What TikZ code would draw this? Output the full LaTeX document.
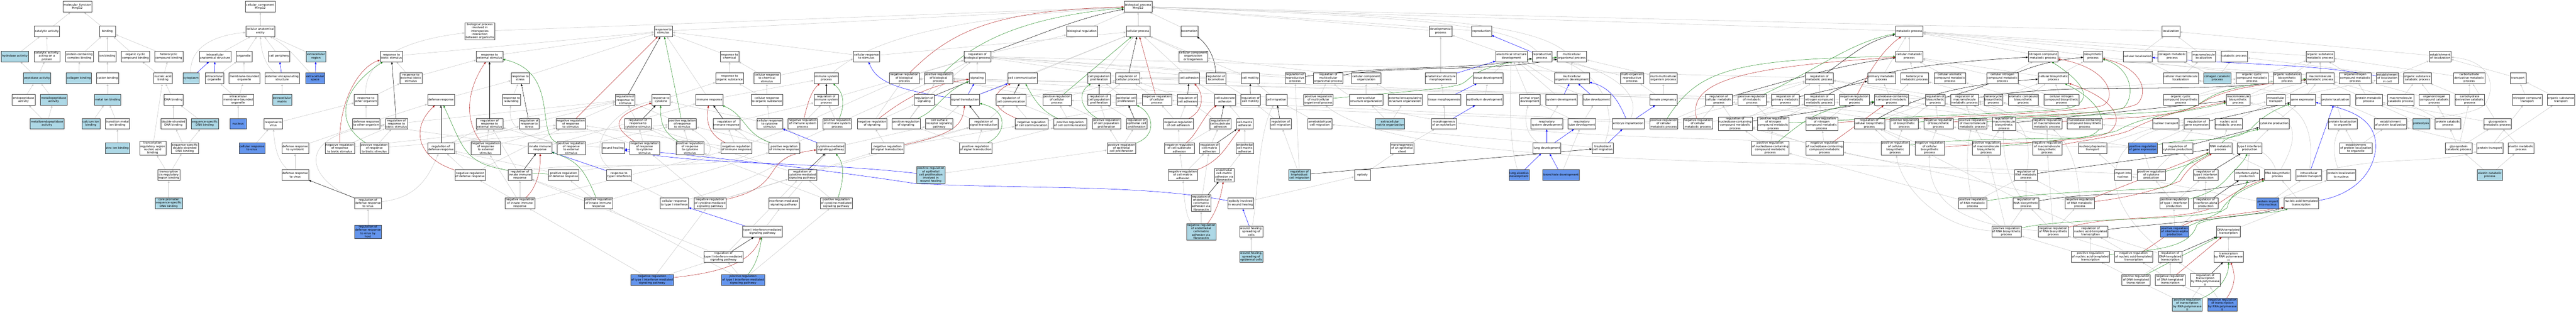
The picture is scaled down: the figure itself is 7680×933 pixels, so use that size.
\documentclass[tikz,border=0pt]{standalone}
\usepackage{fontspec}
\setmainfont{DejaVu Sans}
\usetikzlibrary{arrows.meta,backgrounds}
\definecolor{litblue}{HTML}{ADD8E6}
\definecolor{cornblue}{HTML}{6495ED}
\definecolor{edgegray}{HTML}{C4C4C4}
\definecolor{negred}{HTML}{B22222}
\definecolor{posgreen}{HTML}{228B22}
\tikzset{
  gobox/.style={draw=black!75,line width=.55pt,fill=white,align=center,inner xsep=2pt,inner ysep=2pt,minimum width=48pt,minimum height=32pt,font=\fontsize{8.6}{9.6}\selectfont},
  litbox/.style={gobox,fill=litblue},
  cornbox/.style={gobox,fill=cornblue},
  isa/.style={edgegray,line width=.8pt,-{Latex[length=7pt,width=6pt]}},
  partof/.style={isa,blue},
  regs/.style={isa,black},
  negreg/.style={isa,negred},
  posreg/.style={isa,posgreen}
}
\begin{document}
\begin{tikzpicture}[x=1pt,y=-1pt]
\useasboundingbox (0,0) rectangle (7680,933);

% molecular function
\node[gobox] (mf) at (230.5,20) {molecular\_function\\Mmp12};
\node[gobox] (catact) at (139.5,93) {catalytic activity};
\node[gobox] (binding) at (320,93) {binding};
\node[litbox] (hydrol) at (44,168) {hydrolase activity};
\node[gobox] (catprot) at (140,168) {catalytic activity,\\acting on a\\protein};
\node[gobox] (pcbind) at (237,168) {protein-containing\\complex binding};
\node[gobox] (ionbind) at (320,168) {ion binding};
\node[gobox] (ocbind) at (403.5,168) {organic cyclic\\compound binding};
\node[gobox] (hcbind) at (503,168) {heterocyclic\\compound binding};
\node[litbox] (peptid) at (110.5,233) {peptidase activity};
\node[litbox] (collbind) at (235,233) {collagen binding};
\node[gobox] (cationbind) at (320.7,233) {cation binding};
\node[gobox] (nabind) at (486,233) {nucleic acid\\binding};
\node[gobox] (endopep) at (70,298) {endopeptidase\\activity};
\node[litbox] (metpep) at (160,298) {metallopeptidase\\activity};
\node[litbox] (metionb) at (320.7,298) {metal ion binding};
\node[gobox] (dnabind) at (517,298) {DNA binding};
\node[litbox] (metendo) at (140,369) {metalloendopeptidase\\activity};
\node[litbox] (caion) at (271,369) {calcium ion\\binding};
\node[gobox] (transmet) at (350,369) {transition metal\\ion binding};
\node[gobox] (dsdna) at (517,369) {double-stranded\\DNA binding};
\node[litbox] (ssdna) at (610.5,369) {sequence-specific\\DNA binding};
\node[litbox] (zincion) at (350,442) {zinc ion binding};
\node[gobox] (trrnab) at (455,442) {transcription\\regulatory region\\nucleic acid\\binding};
\node[gobox] (sdsdna) at (551,442) {sequence-specific\\double-stranded\\DNA binding};
\node[gobox] (cisreg) at (503,522) {transcription\\cis-regulatory\\region binding};
\node[litbox] (corepro) at (503,606) {core promoter\\sequence-specific\\DNA binding};

% cellular component
\node[gobox] (cc) at (776,20) {cellular\_component\\Mmp12};
\node[gobox] (cae) at (776,93) {cellular anatomical\\entity};
\node[gobox] (iastr) at (641,168) {intracellular\\anatomical structure};
\node[gobox] (organelle) at (727,168) {organelle};
\node[gobox] (cperiph) at (832,168) {cell periphery};
\node[litbox] (exreg) at (942,168) {extracellular\\region};
\node[litbox] (cytopl) at (569.6,233) {cytoplasm};
\node[gobox] (iorg) at (639,233) {intracellular\\organelle};
\node[gobox] (mbo) at (728.5,233) {membrane-bounded\\organelle};
\node[gobox] (ees) at (841,233) {external encapsulating\\structure};
\node[cornbox] (exspace) at (939.5,233) {extracellular\\space};
\node[gobox] (imbo) at (710,298) {intracellular\\membrane-bounded\\organelle};
\node[litbox] (exmatrix) at (841,298) {extracellular\\matrix};
\node[cornbox] (nucleus) at (710,369) {nucleus};

% biological process, left part
\node[gobox] (rvirus) at (814.6,369) {response to\\virus};
\node[cornbox] (crvirus) at (751,442) {cellular response\\to virus};
\node[gobox] (drsym) at (880,442) {defense response\\to symbiont};
\node[gobox] (drvirus) at (880,522) {defense response\\to virus};
\node[gobox] (negrbs) at (1013,442) {negative regulation\\of response\\to biotic stimulus};
\node[gobox] (posrbs) at (1116,442) {positive regulation\\of response\\to biotic stimulus};
\node[gobox] (rbs) at (1167,168) {response to\\biotic stimulus};
\node[gobox] (rebs) at (1225,233) {response to\\external biotic\\stimulus};
\node[gobox] (rother) at (1091,298) {response to\\other organism};
\node[gobox] (drother) at (1092,369) {defense response\\to other organism};
\node[gobox] (regrbs) at (1182,369) {regulation of\\response to\\biotic stimulus};
\node[gobox] (regdv) at (1097,606) {regulation of\\defense response\\to virus};
\node[cornbox] (regdvh) at (1097,691) {regulation of\\defense response\\to virus by\\host};
\node[gobox] (bpinter) at (1430.5,93) {biological process\\involved in\\interspecies\\interaction\\between organisms};
\node[gobox] (rext) at (1459.5,168) {response to\\external stimulus};
\node[gobox] (rstress) at (1551,233) {response to\\stress};
\node[gobox] (defresp) at (1314.5,298) {defense response};
\node[gobox] (rwound) at (1525,298) {response to\\wounding};
\node[gobox] (regrstim) at (1864,298) {regulation of\\response to\\stimulus};
\node[gobox] (regrext) at (1459.5,369) {regulation of\\response to\\external stimulus};
\node[gobox] (regrstress) at (1578,369) {regulation of\\response to\\stress};
\node[gobox] (negrstim) at (1701.5,369) {negative regulation\\of response\\to stimulus};
\node[gobox] (regrcyt) at (1902,369) {regulation of\\response to\\cytokine stimulus};
\node[gobox] (regdef) at (1314.5,442) {regulation of\\defense response};
\node[gobox] (negrext) at (1448,442) {negative regulation\\of response\\to external\\stimulus};
\node[gobox] (innate) at (1610,442) {innate immune\\response};
\node[gobox] (posrext) at (1703,442) {positive regulation\\of response\\to external\\stimulus};
\node[gobox] (woundh) at (1828,442) {wound healing};
\node[gobox] (negrcyt) at (1921.7,442) {negative regulation\\of response\\to cytokine\\stimulus};
\node[gobox] (negdef) at (1401.6,522) {negative regulation\\of defense response};
\node[gobox] (reginnate) at (1550,522) {regulation of\\innate immune\\response};
\node[gobox] (posdef) at (1680,522) {positive regulation\\of defense response};
\node[gobox] (rtype) at (1845.5,522) {response to\\type I interferon};
\node[gobox] (neginnate) at (1550,606) {negative regulation\\of innate immune\\response};
\node[gobox] (posinnate) at (1784,606) {positive regulation\\of innate immune\\response};
\node[cornbox] (negtype) at (1944,835) {negative regulation\\of type I interferon-mediated\\signaling pathway};

% immune and response to stimulus
\node[gobox] (stim) at (1977.5,93) {response to\\stimulus};
\node[gobox] (rchem) at (2175,168) {response to\\chemical};
\node[gobox] (cellresp) at (2583,168) {cellular response\\to stimulus};
\node[gobox] (rorg) at (2175,233) {response to\\organic substance};
\node[gobox] (crchem) at (2286.4,233) {cellular response\\to chemical\\stimulus};
\node[gobox] (imsys) at (2463.5,233) {immune system\\process};
\node[gobox] (rcyt) at (1970.6,298) {response to\\cytokine};
\node[gobox] (immresp) at (2115,298) {immune response};
\node[gobox] (crorg) at (2286.4,298) {cellular response\\to organic substance};
\node[gobox] (regimsys) at (2463.5,298) {regulation of\\immune system\\process};
\node[gobox] (posrstim) at (2034,369) {positive regulation\\of response\\to stimulus};
\node[gobox] (regimm) at (2166,369) {regulation of\\immune response};
\node[gobox] (crcyt) at (2294.5,369) {cellular response\\to cytokine\\stimulus};
\node[gobox] (negimsys) at (2393,369) {negative regulation\\of immune system\\process};
\node[gobox] (posimsys) at (2496,369) {positive regulation\\of immune system\\process};
\node[gobox] (negsignal) at (2600,369) {negative regulation\\of signaling};
\node[gobox] (posrcyt) at (2057,442) {positive regulation\\of response\\to cytokine\\stimulus};
\node[gobox] (negimm) at (2195.4,442) {negative regulation\\of immune response};
\node[gobox] (posimm) at (2338,442) {positive regulation\\of immune response};
\node[gobox] (cmsp) at (2477,442) {cytokine-mediated\\signaling pathway};
\node[gobox] (regcmsp) at (2392,522) {regulation of\\cytokine-mediated\\signaling pathway};
\node[gobox] (crtype) at (2010.6,606) {cellular response\\to type I interferon};
\node[gobox] (negcmsp) at (2117,606) {negative regulation\\of cytokine-mediated\\signaling pathway};
\node[gobox] (ifnmsp) at (2336.6,606) {interferon-mediated\\signaling pathway};
\node[gobox] (poscmsp) at (2493,606) {positive regulation\\of cytokine-mediated\\signaling pathway};
\node[gobox] (typemsp) at (2273,691) {type I interferon-mediated\\signaling pathway};
\node[gobox] (regtype) at (2156.6,766) {regulation of\\type I interferon-mediated\\signaling pathway};
\node[cornbox] (postype) at (2215.4,835) {positive regulation\\of type I interferon-mediated\\signaling pathway};

% signaling
\node[gobox] (regbp) at (2914,168) {regulation of\\biological process};
\node[gobox] (negbp) at (2696,233) {negative regulation\\of biological\\process};
\node[gobox] (posbp) at (2798,233) {positive regulation\\of biological\\process};
\node[gobox] (signaling) at (2913,233) {signaling};
\node[gobox] (cellcomm) at (3048,233) {cell communication};
\node[gobox] (bioreg) at (3225.5,93) {biological regulation};
\node[gobox] (regsig) at (2755,298) {regulation of\\signaling};
\node[gobox] (sigtr) at (2877,298) {signal transduction};
\node[gobox] (regcomm) at (3014,298) {regulation of\\cell communication};
\node[gobox] (poscell) at (3151,298) {positive regulation\\of cellular\\process};
\node[gobox] (possig) at (2701,369) {positive regulation\\of signaling};
\node[gobox] (csrsp) at (2800,369) {cell surface\\receptor signaling\\pathway};
\node[gobox] (regst) at (2932.5,369) {regulation of\\signal transduction};
\node[gobox] (negcomm) at (3075,369) {negative regulation\\of cell communication};
\node[gobox] (poscomm) at (3190.5,369) {positive regulation\\of cell communication};
\node[gobox] (negst) at (2646,442) {negative regulation\\of signal transduction};
\node[gobox] (posst) at (2909,442) {positive regulation\\of signal transduction};
\node[litbox] (posepw) at (2775,522) {positive regulation\\of epithelial\\cell proliferation\\involved in\\wound healing};

% cellular process
\node[gobox] (bp) at (3393,20) {biological\_process\\Mmp12};
\node[gobox] (cellproc) at (3393,93) {cellular process};
\node[gobox] (locomo) at (3546,93) {locomotion};
\node[gobox] (ccob) at (3557.4,168) {cellular component\\organization\\or biogenesis};
\node[gobox] (cellpop) at (3276.7,233) {cell population\\proliferation};
\node[gobox] (regcell) at (3362,233) {regulation of\\cellular process};
\node[gobox] (celladh) at (3545,233) {cell adhesion};
\node[gobox] (regloc) at (3625,233) {regulation of\\locomotion};
\node[gobox] (cellmot) at (3727.5,233) {cell motility};
\node[gobox] (regrepro) at (3861,233) {regulation of\\reproductive\\process};
\node[gobox] (regpop) at (3276.7,298) {regulation of\\cell population\\proliferation};
\node[gobox] (epithp) at (3357.5,298) {epithelial cell\\proliferation};
\node[gobox] (negcell) at (3449,298) {negative regulation\\of cellular\\process};
\node[gobox] (regadh) at (3540,298) {regulation of\\cell adhesion};
\node[gobox] (csa) at (3651.6,298) {cell-substrate\\adhesion};
\node[gobox] (regmot) at (3728,298) {regulation of\\cell motility};
\node[gobox] (cellmig) at (3805.5,298) {cell migration};
\node[gobox] (pospop) at (3298.7,369) {positive regulation\\of cell population\\proliferation};
\node[gobox] (regep) at (3388.5,369) {regulation of\\epithelial cell\\proliferation};
\node[gobox] (negadh) at (3513,369) {negative regulation\\of cell adhesion};
\node[gobox] (regcsa) at (3638,369) {regulation of\\cell-substrate\\adhesion};
\node[gobox] (cma) at (3711,369) {cell-matrix\\adhesion};
\node[gobox] (regmig) at (3818,369) {regulation of\\cell migration};
\node[gobox] (posep) at (3343.6,442) {positive regulation\\of epithelial\\cell proliferation};
\node[gobox] (negcsa) at (3516,442) {negative regulation\\of cell-substrate\\adhesion};
\node[gobox] (regcma) at (3605.6,442) {regulation of\\cell-matrix\\adhesion};
\node[gobox] (ecma) at (3711,442) {endothelial\\cell-matrix\\adhesion};
\node[gobox] (negcma) at (3526.4,522) {negative regulation\\of cell-matrix\\adhesion};
\node[gobox] (fnadh) at (3649.6,522) {endothelial\\cell-matrix\\adhesion via\\fibronectin};
\node[gobox] (regfn) at (3581,606) {regulation of\\endothelial\\cell-matrix\\adhesion via\\fibronectin};
\node[gobox] (epiwh) at (3698.6,606) {epiboly involved\\in wound healing};
\node[litbox] (negfn) at (3581,691) {negative regulation\\of endothelial\\cell-matrix\\adhesion via\\fibronectin};
\node[gobox] (spread) at (3730.4,691) {wound healing,\\spreading of\\cells};
\node[litbox] (spreadepi) at (3730.4,766) {wound healing,\\spreading of\\epidermal cells};

% development
\node[gobox] (devproc) at (4295,93) {developmental\\process};
\node[gobox] (repro) at (4417,93) {reproduction};
\node[gobox] (asd) at (4506,168) {anatomical structure\\development};
\node[gobox] (regmulti) at (3960,233) {regulation of\\multicellular\\organismal process};
\node[gobox] (cco) at (4073,233) {cellular component\\organization};
\node[gobox] (asm) at (4295,233) {anatomical structure\\morphogenesis};
\node[gobox] (tissdev) at (4436.5,233) {tissue development};
\node[gobox] (posmulti) at (3930.6,298) {positive regulation\\of multicellular\\organismal process};
\node[gobox] (exorg) at (4073,298) {extracellular\\structure organization};
\node[gobox] (eesorg) at (4189,298) {external encapsulating\\structure organization};
\node[gobox] (tissmorph) at (4305,298) {tissue morphogenesis};
\node[gobox] (epdev) at (4426,298) {epithelium development};
\node[gobox] (amebo) at (3934.7,369) {ameboidal-type\\cell migration};
\node[litbox] (ecmorg) at (4144,369) {extracellular\\matrix organization};
\node[gobox] (morphep) at (4305,369) {morphogenesis\\of an epithelium};
\node[gobox] (morphsh) at (4180,442) {morphogenesis\\of an epithelial\\sheet};
\node[litbox] (regtroph) at (3874,522) {regulation of\\trophoblast\\cell migration};
\node[gobox] (epiboly) at (4062,522) {epiboly};
\node[gobox] (reprop) at (4597,168) {reproductive\\process};
\node[gobox] (multicell) at (4686,168) {multicellular\\organismal process};
\node[gobox] (mod) at (4686.4,233) {multicellular\\organism development};
\node[gobox] (multirepro) at (4865.6,233) {multi-organism\\reproductive\\process};
\node[gobox] (multimulti) at (4959,233) {multi-multicellular\\organism process};
\node[gobox] (organdev) at (4561,298) {animal organ\\development};
\node[gobox] (sysdev) at (4655.4,298) {system development};
\node[gobox] (tubedev) at (4760,298) {tube development};
\node[gobox] (female) at (4959,298) {female pregnancy};
\node[gobox] (respsys) at (4611.4,369) {respiratory\\system development};
\node[gobox] (resptube) at (4716,369) {respiratory\\tube development};
\node[gobox] (embryo) at (4854,369) {embryo implantation};
\node[gobox] (lungdev) at (4611.4,442) {lung development};
\node[gobox] (troph) at (4778,442) {trophoblast\\cell migration};
\node[cornbox] (lungalv) at (4529,522) {lung alveolus\\development};
\node[cornbox] (bronch) at (4654,522) {bronchiole development};

% metabolism
\node[gobox] (regcellmet) at (5124.5,298) {regulation of\\cellular metabolic\\process};
\node[gobox] (poscellmet) at (4960,369) {positive regulation\\of cellular\\metabolic process};
\node[gobox] (negcellmet) at (5062,369) {negative regulation\\of cellular\\metabolic process};
\node[gobox] (metab) at (5692,93) {metabolic process};
\node[gobox] (cellmet) at (5692,168) {cellular metabolic\\process};
\node[gobox] (regmet) at (5424,233) {regulation of\\metabolic process};
\node[gobox] (primet) at (5609,233) {primary metabolic\\process};
\node[gobox] (hcmet) at (5708,233) {heterocycle\\metabolic process};
\node[gobox] (posmet) at (5223,298) {positive regulation\\of metabolic\\process};
\node[gobox] (regprim) at (5323,298) {regulation of\\primary metabolic\\process};
\node[gobox] (regnit) at (5424,298) {regulation of\\nitrogen compound\\metabolic process};
\node[gobox] (negmet) at (5528.4,298) {negative regulation\\of metabolic\\process};
\node[gobox] (nbcmet) at (5639,298) {nucleobase-containing\\compound metabolic\\process};
\node[gobox] (regbio) at (5769.5,298) {regulation of\\biosynthetic\\process};
\node[gobox] (regnb) at (5173,369) {regulation of\\nucleobase-containing\\compound metabolic\\process};
\node[gobox] (posnit) at (5286.5,369) {positive regulation\\of nitrogen\\compound metabolic\\process};
\node[gobox] (negnit) at (5431,369) {negative regulation\\of nitrogen\\compound metabolic\\process};
\node[gobox] (regcellbio) at (5573,369) {regulation of\\cellular biosynthetic\\process};
\node[gobox] (posbio) at (5677,369) {positive regulation\\of biosynthetic\\process};
\node[gobox] (negbio) at (5779,369) {negative regulation\\of biosynthetic\\process};
\node[gobox] (posnb) at (5277.5,442) {positive regulation\\of nucleobase-containing\\compound metabolic\\process};
\node[gobox] (negnb) at (5439.5,442) {negative regulation\\of nucleobase-containing\\compound metabolic\\process};
\node[gobox] (poscellbio) at (5650,442) {positive regulation\\of cellular\\biosynthetic\\process};
\node[gobox] (negcellbio) at (5753,442) {negative regulation\\of cellular\\biosynthetic\\process};
\node[gobox] (nitmet) at (6091,168) {nitrogen compound\\metabolic process};
\node[gobox] (biosyn) at (6240,168) {biosynthetic\\process};
\node[gobox] (cellloc) at (6373,168) {cellular localization};
\node[gobox] (carmet) at (5813.4,233) {cellular aromatic\\compound metabolic\\process};
\node[gobox] (cnitmet) at (5970,233) {cellular nitrogen\\compound metabolic\\process};
\node[gobox] (cellbio) at (6122,233) {cellular biosynthetic\\process};
\node[gobox] (regmacmet) at (5857,298) {regulation of\\macromolecule\\metabolic process};
\node[gobox] (hcbio) at (5943,298) {heterocycle\\biosynthetic\\process};
\node[gobox] (arbio) at (6032,298) {aromatic compound\\biosynthetic\\process};
\node[gobox] (cnitbio) at (6146,298) {cellular nitrogen\\compound biosynthetic\\process};
\node[gobox] (posmacmet) at (5881,369) {positive regulation\\of macromolecule\\metabolic process};
\node[gobox] (regmacbio) at (5974.6,369) {regulation of\\macromolecule\\biosynthetic\\process};
\node[gobox] (negmacmet) at (6103,369) {negative regulation\\of macromolecule\\metabolic process};
\node[gobox] (nbcbio) at (6215,369) {nucleobase-containing\\compound biosynthetic\\process};
\node[gobox] (posmacbio) at (5921.6,442) {positive regulation\\of macromolecule\\biosynthetic\\process};
\node[gobox] (negmacbio) at (6103,442) {negative regulation\\of macromolecule\\biosynthetic\\process};
\node[gobox] (nctrans) at (6238.6,442) {nucleocytoplasmic\\transport};
\node[cornbox] (posgene) at (6388,442) {positive regulation\\of gene expression};
\node[gobox] (regrna) at (6040,522) {regulation of\\RNA metabolic\\process};
\node[gobox] (importn) at (6329,522) {import into\\nucleus};
\node[gobox] (poscyto) at (6413.5,522) {positive regulation\\of cytokine\\production};
\node[gobox] (posrna) at (5881,606) {positive regulation\\of RNA metabolic\\process};
\node[gobox] (regrnabio) at (6040,606) {regulation of\\RNA biosynthetic\\process};
\node[gobox] (negrna) at (6200.6,606) {negative regulation\\of RNA metabolic\\process};
\node[gobox] (posrnabio) at (5982,691) {positive regulation\\of RNA biosynthetic\\process};
\node[gobox] (negrnabio) at (6121.5,691) {negative regulation\\of RNA biosynthetic\\process};
\node[gobox] (regnat) at (6233,691) {regulation of\\nucleic acid-templated\\transcription};
\node[gobox] (posnat) at (6232,766) {positive regulation\\of nucleic acid-templated\\transcription};
\node[gobox] (negnat) at (6361,766) {negative regulation\\of nucleic acid-templated\\transcription};
\node[gobox] (posdna) at (6368,835) {positive regulation\\of DNA-templated\\transcription};

% localization and gene expression
\node[gobox] (localiz) at (6472,93) {localization};
\node[gobox] (collmet) at (6476,168) {collagen metabolic\\process};
\node[gobox] (macloc) at (6570,168) {macromolecule\\localization};
\node[gobox] (catabol) at (6661,168) {catabolic process};
\node[gobox] (orgmet) at (6917,168) {organic substance\\metabolic process};
\node[gobox] (cmacloc) at (6501.6,233) {cellular macromolecule\\localization};
\node[litbox] (collcat) at (6610.5,233) {collagen catabolic\\process};
\node[gobox] (ocmet) at (6714,233) {organic cyclic\\compound metabolic\\process};
\node[gobox] (orgbio) at (6818.6,233) {organic substance\\biosynthetic\\process};
\node[gobox] (macmet) at (6917,233) {macromolecule\\metabolic process};
\node[gobox] (onmet) at (7021.5,233) {organonitrogen\\compound metabolic\\process};
\node[gobox] (ocbio) at (6501.6,298) {organic cyclic\\compound biosynthetic\\process};
\node[gobox] (macbio) at (6672.5,298) {macromolecule\\biosynthetic\\process};
\node[gobox] (itrans) at (6785,298) {intracellular\\transport};
\node[gobox] (geneexp) at (6865.5,298) {gene expression};
\node[gobox] (protloc) at (6962.6,298) {protein localization};
\node[gobox] (protmet) at (7062,298) {protein metabolic\\process};
\node[gobox] (nuctrans) at (6457,369) {nuclear transport};
\node[gobox] (reggene) at (6549.3,369) {regulation of\\gene expression};
\node[gobox] (nucmet) at (6644,369) {nucleic acid\\metabolic process};
\node[gobox] (cytoprod) at (6780,369) {cytokine production};
\node[gobox] (plocorg) at (6984,369) {protein localization\\to organelle};
\node[gobox] (regcyto) at (6492,442) {regulation of\\cytokine production};
\node[gobox] (rnamet) at (6620,442) {RNA metabolic\\process};
\node[gobox] (typeprod) at (6707,442) {type I interferon\\production};
\node[gobox] (estorg) at (7023.5,442) {establishment\\of protein localization\\to organelle};
\node[gobox] (regtypep) at (6576,522) {regulation of\\type I interferon\\production};
\node[gobox] (ifnaprod) at (6699,522) {interferon-alpha\\production};
\node[gobox] (rnabio) at (6790,522) {RNA biosynthetic\\process};
\node[gobox] (iptrans) at (6883.5,522) {intracellular\\protein transport};
\node[gobox] (plocnuc) at (6980,522) {protein localization\\to nucleus};
\node[gobox] (postypep) at (6481,606) {positive regulation\\of type I interferon\\production};
\node[gobox] (regifna) at (6576,606) {regulation of\\interferon-alpha\\production};
\node[cornbox] (protimp) at (6761,606) {protein import\\into nucleus};
\node[gobox] (nat) at (6860.6,606) {nucleic acid-templated\\transcription};
\node[cornbox] (posifna) at (6483,691) {positive regulation\\of interferon-alpha\\production};
\node[gobox] (dnat) at (6643.6,691) {DNA-templated\\transcription};
\node[gobox] (regdna) at (6470,766) {regulation of\\DNA-templated\\transcription};
\node[gobox] (pol) at (6644,766) {transcription\\by RNA polymerase\\II};
\node[gobox] (negdna) at (6470,835) {negative regulation\\of DNA-templated\\transcription};
\node[gobox] (regpol) at (6574.6,835) {regulation of\\transcription\\by RNA polymerase\\II};
\node[litbox] (pospol) at (6521,909) {positive regulation\\of transcription\\by RNA polymerase\\II};
\node[cornbox] (negpol) at (6625.7,909) {negative regulation\\of transcription\\by RNA polymerase\\II};

% catabolism and transport
\node[gobox] (estloc) at (7275,168) {establishment\\of localization};
\node[gobox] (estcell) at (7117.5,233) {establishment\\of localization\\in cell};
\node[gobox] (orgcat) at (7207,233) {organic substance\\catabolic process};
\node[gobox] (carbmet) at (7361.5,233) {carbohydrate\\derivative metabolic\\process};
\node[gobox] (transp) at (7507,233) {transport};
\node[gobox] (maccat) at (7157.5,298) {macromolecule\\catabolic process};
\node[gobox] (oncat) at (7257.5,298) {organonitrogen\\compound catabolic\\process};
\node[gobox] (carbcat) at (7363,298) {carbohydrate\\derivative catabolic\\process};
\node[gobox] (nittrans) at (7534.5,298) {nitrogen compound\\transport};
\node[gobox] (orgtrans) at (7635,298) {organic substance\\transport};
\node[gobox] (estprot) at (7127,369) {establishment\\of protein localization};
\node[litbox] (proteol) at (7218,369) {proteolysis};
\node[gobox] (protcat) at (7298,369) {protein catabolic\\process};
\node[gobox] (glymet) at (7446,369) {glycoprotein\\metabolic process};
\node[gobox] (glycat) at (7330,442) {glycoprotein\\catabolic process};
\node[gobox] (prottrans) at (7423,442) {protein transport};
\node[gobox] (elastmet) at (7516,442) {elastin metabolic\\process};
\node[litbox] (elastcat) at (7423,522) {elastin catabolic\\process};

\begin{pgfonlayer}{background}
% is-a edges
\foreach \a/\b in {catact/mf,binding/mf,hydrol/catact,catprot/catact,pcbind/binding,ionbind/binding,ocbind/binding,hcbind/binding,peptid/hydrol,peptid/catprot,collbind/pcbind,cationbind/ionbind,nabind/ocbind,nabind/hcbind,endopep/peptid,metpep/peptid,metendo/endopep,metendo/metpep,metionb/cationbind,caion/metionb,transmet/metionb,zincion/transmet,dnabind/nabind,trrnab/nabind,dsdna/dnabind,ssdna/dnabind,sdsdna/dsdna,sdsdna/ssdna,cisreg/trrnab,cisreg/sdsdna,corepro/cisreg,
  cae/cc,iastr/cae,organelle/cae,cperiph/cae,exreg/cae,iorg/organelle,mbo/organelle,imbo/iorg,imbo/mbo,exmatrix/ees,nucleus/imbo,
  rbs/stim,rebs/rbs,rebs/rext,rother/rebs,rvirus/rother,crvirus/rvirus,drvirus/drsym,drsym/drother,drother/rother,drother/defresp,regrbs/regrstim,negrbs/regrbs,posrbs/regrbs,negrbs/negrstim,posrbs/posrstim,innate/drother,
  bpinter/bp,rext/stim,rstress/stim,rwound/rstress,defresp/rstress,regrext/regrstim,regrstress/regrstim,negrstim/regrstim,regrcyt/regrstim,posrstim/regrstim,negrext/regrext,negrext/negrstim,posrext/regrext,posrext/posrstim,regdef/regrext,regdef/regrstress,negdef/regdef,posdef/regdef,negdef/negrstim,reginnate/regrext,reginnate/regdef,neginnate/reginnate,neginnate/negdef,neginnate/negrext,neginnate/negimm,posinnate/reginnate,posinnate/posdef,posinnate/posimm,regtype/reginnate,postype/posinnate,negtype/neginnate,innate/immresp,negrcyt/regrcyt,negrcyt/negrstim,posrcyt/regrcyt,posrcyt/posrstim,
  immresp/stim,rchem/stim,rcyt/rorg,rorg/rchem,crchem/rchem,crorg/crchem,crorg/rorg,crcyt/crorg,crcyt/rcyt,crchem/cellresp,cellresp/stim,immresp/imsys,stim/bp,negimsys/regimsys,posimsys/regimsys,regimm/regimsys,regimsys/regbp,negimsys/negbp,posimsys/posbp,negimm/regimm,posimm/regimm,negimm/negrstim,posimm/posrstim,negimm/negimsys,posimm/posimsys,cmsp/csrsp,ifnmsp/cmsp,typemsp/ifnmsp,regcmsp/regrcyt,negcmsp/regcmsp,poscmsp/regcmsp,negcmsp/negrcyt,poscmsp/posrcyt,regcmsp/regst,negcmsp/negst,regtype/regcmsp,negtype/regtype,postype/regtype,negtype/negcmsp,postype/poscmsp,crtype/rtype,
  bioreg/bp,cellproc/bp,locomo/bp,regbp/bioreg,negbp/regbp,posbp/regbp,signaling/regbp,cellresp/cellproc,sigtr/cellproc,cellcomm/cellproc,regsig/regbp,negsignal/negbp,possig/posbp,negsignal/regsig,possig/regsig,regst/regsig,negst/negsignal,posst/possig,negst/regst,posst/regst,csrsp/sigtr,regst/regcomm,negst/negcomm,posst/poscomm,negcomm/regcomm,poscomm/regcomm,regcomm/regcell,poscell/posbp,poscomm/poscell,negcomm/negcell,regcell/regbp,negcell/negbp,negcell/regcell,poscell/regcell,
  cellpop/cellproc,celladh/cellproc,ccob/cellproc,cellmot/cellproc,regpop/regcell,epithp/cellpop,regep/regpop,pospop/regpop,pospop/poscell,posep/pospop,posep/regep,posepw/posep,regadh/regcell,negadh/regadh,negadh/negcell,negcsa/negadh,regcsa/regadh,negcsa/regcsa,regcma/regcsa,negcma/negcsa,negcma/regcma,csa/celladh,cma/csa,ecma/cma,fnadh/ecma,regfn/regcma,negfn/regfn,spreadepi/spread,regloc/regcell,regloc/regbp,regmot/regloc,cellmig/cellmot,regmig/regmot,amebo/cellmig,regtroph/regmig,regtroph/regrepro,regrepro/regbp,regmulti/regbp,posmulti/regmulti,posmulti/posbp,epiwh/epiboly,
  cco/ccob,exorg/cco,eesorg/cco,ecmorg/exorg,ecmorg/eesorg,tissmorph/asm,morphep/tissmorph,morphsh/morphep,epiboly/morphsh,asm/devproc,asd/devproc,devproc/bp,repro/bp,tissdev/asd,epdev/tissdev,mod/multicell,mod/asd,sysdev/asd,organdev/asd,respsys/sysdev,resptube/tubedev,resptube/organdev,bronch/resptube,multirepro/reprop,multimulti/multicell,female/multirepro,female/multimulti,troph/amebo,
  regmet/regbp,posmet/regmet,regprim/regmet,regnit/regmet,negmet/regmet,regcellmet/regmet,metab/bp,cellmet/metab,primet/metab,hcmet/cellmet,nbcmet/primet,nbcmet/hcmet,posmet/posbp,negmet/negbp,poscellmet/posmet,poscellmet/regcellmet,negcellmet/negmet,negcellmet/regcellmet,regcellmet/regcell,poscellmet/poscell,negcellmet/negcell,regnb/regcellmet,regnb/regprim,regnb/regnit,posnit/posmet,posnit/regnit,negnit/negmet,negnit/regnit,posnb/regnb,negnb/regnb,posnb/posnit,negnb/negnit,posbio/regbio,negbio/regbio,regcellbio/regbio,regcellbio/regcellmet,poscellbio/regcellbio,negcellbio/regcellbio,poscellbio/posbio,negcellbio/negbio,regbio/regmet,posbio/posmet,negbio/negmet,
  nitmet/metab,biosyn/metab,cnitmet/nitmet,cnitmet/cellmet,carmet/cellmet,cellbio/biosyn,cellbio/cellmet,hcbio/hcmet,hcbio/cellbio,arbio/cellbio,arbio/carmet,cnitbio/cellbio,cnitbio/cnitmet,nbcbio/cnitbio,nbcbio/hcbio,nbcbio/arbio,nbcbio/nbcmet,regmacmet/regmet,posmacmet/regmacmet,negmacmet/regmacmet,regmacbio/regmacmet,regmacbio/regbio,posmacbio/posmacmet,posmacbio/regmacbio,negmacbio/negmacmet,negmacbio/regmacbio,posrna/regrna,negrna/regrna,regrnabio/regrna,regrnabio/regcellbio,posrnabio/posrna,posrnabio/regrnabio,negrnabio/negrna,negrnabio/regrnabio,posrnabio/posmacbio,negrnabio/negmacbio,regnat/regrnabio,posnat/regnat,negnat/regnat,posnat/posrnabio,negnat/negrnabio,posdna/posnat,negdna/negnat,regdna/regnat,posmacmet/posmet,negmacmet/negmet,posmacbio/posbio,negmacbio/negbio,reggene/regmacmet,posgene/reggene,posgene/posmacmet,poscyto/posgene,regcyto/reggene,poscyto/regcyto,posrna/posnb,negrna/negnb,
  importn/nctrans,protimp/importn,nctrans/nuctrans,nuctrans/itrans,itrans/estcell,protimp/iptrans,protimp/plocnuc,plocorg/protloc,estorg/plocorg,estorg/estprot,estprot/protloc,protloc/cmacloc,cmacloc/macloc,cmacloc/cellloc,macloc/localiz,cellloc/localiz,localiz/bp,estcell/estloc,prottrans/estprot,prottrans/nittrans,prottrans/orgtrans,nittrans/transp,orgtrans/transp,transp/estloc,estloc/localiz,
  collcat/collmet,collcat/catabol,catabol/metab,collmet/metab,orgmet/metab,ocmet/orgmet,orgbio/orgmet,macmet/orgmet,onmet/orgmet,carbmet/orgmet,nbcmet/ocmet,ocbio/ocmet,ocbio/orgbio,macbio/orgbio,macbio/macmet,orgbio/biosyn,geneexp/macmet,nucmet/macmet,rnamet/nucmet,protmet/macmet,protmet/onmet,rnabio/rnamet,nat/rnabio,dnat/nat,pol/dnat,cytoprod/geneexp,typeprod/cytoprod,ifnaprod/typeprod,regtypep/regcyto,posifna/regifna,postypep/regtypep,regifna/regtypep,postypep/poscyto,posifna/postypep,onmet/nitmet,
  orgcat/catabol,maccat/orgcat,oncat/orgcat,carbcat/orgcat,carbcat/carbmet,glymet/carbmet,glymet/protmet,glycat/glymet,glycat/protcat,glycat/carbcat,protcat/maccat,protcat/oncat,protcat/protmet,proteol/protmet,elastcat/glycat,elastcat/elastmet,elastmet/glymet,maccat/macmet,oncat/onmet,regdvh/regdv,posdna/regdna,negdna/regdna,regpol/regdna,pospol/regpol,negpol/regpol,pospol/posdna,negpol/negdna}
  \draw[isa] (\a) -- (\b);
% is-a edges, curved
\foreach \a/\b/\p/\q/\r/\s in {cytopl/cae/565/140/640/105,ees/cae/790/195/778/150,exspace/cae/880/170/860/140,drvirus/rvirus/825/480/818/430,rother/bpinter/1085/180/1200/120,regdv/regrbs/920/540/860/400,regdv/regdef/1250/590/1280/520,woundh/rwound/1600/425/1510/400,rtype/rcyt/1730/440/1840/320,crtype/crcyt/2250/540/2480/430,imsys/bp/2620/100/2900/50,spread/cellmig/3750/590/3750/400,negfn/negcma/3535/650/3530/590,reprop/bp/4500/70/4200/50,multicell/bp/4560/75/4300/45,troph/reprop/4830/310/4750/200,embryo/reprop/4900/270/4780/200,tubedev/asd/4620/250/4600/220,lungalv/asd/4500/430/4500/300,lungdev/organdev/4545/400/4545/350,regcyto/regmulti/5000/415/4150/420,poscyto/posmulti/5300/470/4200/510,iptrans/prottrans/7100/465/7250/490,plocnuc/plocorg/6955/470/6955/420,iptrans/itrans/6900/400/6870/340,rnabio/nbcbio/6760/430/6650/395,rnabio/macbio/6860/400/6850/340,regrna/regmacmet/6060/420/6030/330,regrnabio/regmacbio/5985/540/5970/450,negrna/negmacmet/6195/500/6170/430,posrna/posmacmet/5862/520/5862/440,regdna/reggene/6250/600/6250/400,posrnabio/poscellbio/5780/680/5670/560,negrnabio/negcellbio/5800/670/5750/570,regrna/regnb/5450/485/5330/400}
  \draw[isa] (\a) .. controls (\p,\q) and (\r,\s) .. (\b);
\draw[isa] (reginnate) .. controls (1620,495) and (1800,494) .. (1920,494) .. controls (2150,490) and (2330,480) .. (regimm);
\draw[isa] (posdef) .. controls (1800,495) and (1900,494) .. (2000,492) .. controls (2100,490) and (2170,450) .. (posrstim);
\draw[isa] (estprot) .. controls (7300,345) and (7380,340) .. (7410,310) .. controls (7445,250) and (7420,180) .. (estloc);
% part-of edges
\foreach \a/\b in {cytopl/iastr,iorg/iastr,ees/cperiph,exspace/exreg,cmsp/crcyt,typemsp/crtype,rtype/innate,sigtr/signaling,sigtr/cellcomm,asm/asd,tissmorph/tissdev,morphep/epdev,reprop/repro,sysdev/mod,tubedev/mod,lungdev/respsys,lungdev/resptube,lungalv/lungdev,bronch/lungdev,troph/embryo,embryo/female,spread/epiwh,iptrans/protloc}
  \draw[partof] (\a) -- (\b);
\foreach \a/\b/\p/\q/\r/\s in {sigtr/cellresp/2650/265/2610/235,embryo/mod/4825/300/4800/260,estcell/cellloc/6900/190/6700/195,posepw/woundh/2400/480/2100/495}
  \draw[partof] (\a) .. controls (\p,\q) and (\r,\s) .. (\b);
\draw[partof] (epiwh) .. controls (3400,550) and (3100,565) .. (2731,548) .. controls (2550,520) and (2250,480) .. (woundh);
\draw[partof] (nat) .. controls (7000,585) and (7075,530) .. (7083,441) .. controls (7085,350) and (7000,325) .. (geneexp);
% regulates
\foreach \a/\b in {regrbs/rbs,regrext/rext,regrstress/rstress,regdef/defresp,regdv/drvirus,reginnate/innate,regrstim/stim,regrcyt/rcyt,regimm/immresp,regimsys/imsys,regcmsp/cmsp,regtype/typemsp,regsig/signaling,regcomm/cellcomm,regst/sigtr,regcell/cellproc,regpop/cellpop,regep/epithp,regadh/celladh,regcsa/csa,regcma/cma,regfn/fnadh,regmot/cellmot,regmig/cellmig,regtroph/troph,regprim/primet,regnb/nbcmet,regmacbio/macbio,regrna/rnamet,reggene/geneexp,regcyto/cytoprod,regtypep/typeprod,regifna/ifnaprod,regdna/dnat,regpol/pol}
  \draw[regs] (\a) -- (\b);
\foreach \a/\b/\p/\q/\r/\s in {regbp/bp/3050/125/3200/55,regloc/locomo/3622/160/3590/125,regmet/metab/5520/165/5560/125,regcellmet/cellmet/5330/240/5500/190,regnit/nitmet/5580/205/5800/185,regrepro/reprop/4100/195/4400/210,regmulti/multicell/4150/195/4450/215,regcellbio/cellbio/5760/260/5950/245,regbio/biosyn/6000/240/6020/190,regmacmet/macmet/6200/240/6500/285,regrnabio/rnabio/6300/560/6500/600,regnat/nat/6400/670/6700/650}
  \draw[regs] (\a) .. controls (\p,\q) and (\r,\s) .. (\b);
% negative regulation
\foreach \a/\b in {negrstim/stim,negcell/cellproc,negnb/nbcmet,negrna/rnamet,negdna/dnat}
  \draw[negreg] (\a) -- (\b);
\foreach \a/\b/\p/\q/\r/\s in {negrbs/rbs/1011/300/1070/200,negrext/rext/1385/360/1390/270,negdef/defresp/1240/470/1225/380,neginnate/innate/1600/560/1612/510,negrcyt/rcyt/1820/375/1830/345,negimm/immresp/2110/400/2105/360,negimsys/imsys/2410/300/2420/270,negcmsp/cmsp/2360/550/2250/470,negtype/typemsp/2130/815/2240/790,negbp/bp/2830/100/2950/30,negsignal/signaling/2690/300/2760/255,negst/sigtr/2850/400/2870/370,negcomm/cellcomm/2955/325/2950/280,negadh/celladh/3590/330/3590/280,negcsa/csa/3570/400/3590/340,negcma/cma/3640/480/3660/430,negfn/fnadh/3625/635/3640/590,negpol/pol/6665/850/6665/820,negmet/metab/5570/220/5610/150,negcellmet/cellmet/5030/240/5200/200}
  \draw[negreg] (\a) .. controls (\p,\q) and (\r,\s) .. (\b);
\draw[negreg] (negnit) .. controls (5700,350) and (6100,345) .. (6266,316) .. controls (6310,300) and (6300,205) .. (nitmet);
\draw[negreg] (negmacmet) .. controls (6250,350) and (6450,360) .. (6550,315) .. controls (6620,270) and (6700,255) .. (macmet);
\draw[negreg] (negmacbio) .. controls (6200,420) and (6300,410) .. (6352,388) .. controls (6420,350) and (6500,330) .. (macbio);
\draw[negreg] (negcellbio) .. controls (5950,425) and (6250,425) .. (6290,393) .. controls (6340,350) and (6290,290) .. (cellbio);
\draw[negreg] (negbio) .. controls (6000,345) and (6300,345) .. (6372,310) .. controls (6410,270) and (6380,200) .. (biosyn);
\draw[negreg] (negrnabio) .. controls (6300,640) and (6500,660) .. (6595,620) .. controls (6640,590) and (6680,560) .. (rnabio);
\draw[negreg] (negnat) .. controls (6440,720) and (6480,680) .. (6550,655) .. controls (6650,640) and (6780,625) .. (nat);
\draw[negreg] (negrna) .. controls (6350,590) and (6450,560) .. (6500,540) .. controls (6530,490) and (6560,480) .. (rnamet);
% positive regulation
\foreach \a/\b in {posrstim/stim,poscell/cellproc,posdna/dnat}
  \draw[posreg] (\a) -- (\b);
\foreach \a/\b/\p/\q/\r/\s in {posrbs/rbs/1000/370/1010/270,posrext/rext/1595/400/1670/215,posdef/defresp/1380/505/1395/470,posinnate/innate/1740/500/1720/480,posrcyt/rcyt/1975/395/1968/360,posimm/immresp/2215/395/2225/345,posimsys/imsys/2520/310/2515/275,poscmsp/cmsp/2515/540/2520/490,postype/typemsp/2255/790/2265/750,posbp/bp/2910/120/3060/50,possig/signaling/2800/325/2810/275,posst/sigtr/3000/400/3010/330,poscomm/cellcomm/3100/330/3080/290,posep/epithp/3450/405/3440/340,pospop/cellpop/3215/320/3215/275,pospol/pol/6610/870/6645/830,posmet/metab/5430/200/5520/125,poscellmet/cellmet/5060/215/5150/175,posnb/nbcmet/5390/350/5430/320}
  \draw[posreg] (\a) .. controls (\p,\q) and (\r,\s) .. (\b);
\draw[posreg] (posmulti) .. controls (4150,275) and (4280,270) .. (4350,253) .. controls (4395,240) and (4370,190) .. (multicell);
\draw[posreg] (posnit) .. controls (5800,342) and (6100,335) .. (6170,322) .. controls (6230,305) and (6235,260) .. (nitmet);
\draw[posreg] (posmacmet) .. controls (6100,340) and (6400,345) .. (6522,325) .. controls (6590,305) and (6570,255) .. (macmet);
\draw[posreg] (posmacbio) .. controls (6050,425) and (6250,410) .. (6312,390) .. controls (6400,340) and (6500,340) .. (macbio);
\draw[posreg] (poscellbio) .. controls (5800,412) and (6150,415) .. (6209,411) .. controls (6300,395) and (6280,310) .. (cellbio);
\draw[posreg] (posbio) .. controls (5900,345) and (6250,345) .. (6331,322) .. controls (6370,280) and (6350,200) .. (biosyn);
\draw[posreg] (posgene) .. controls (6550,405) and (6660,430) .. (6710,385) .. controls (6750,340) and (6800,320) .. (geneexp);
\draw[posreg] (poscyto) .. controls (6540,490) and (6600,460) .. (6630,420) .. controls (6660,400) and (6720,390) .. (cytoprod);
\draw[posreg] (posrna) .. controls (6100,570) and (6350,570) .. (6450,560) .. controls (6510,540) and (6480,500) .. (rnamet);
\draw[posreg] (posifna) .. controls (6560,660) and (6610,640) .. (6640,620) .. controls (6650,570) and (6700,560) .. (ifnaprod);
\draw[posreg] (postypep) .. controls (6580,580) and (6620,560) .. (6650,520) .. controls (6680,490) and (6690,480) .. (typeprod);
\draw[posreg] (posrnabio) .. controls (6150,650) and (6500,660) .. (6620,630) .. controls (6650,580) and (6700,560) .. (rnabio);
\draw[posreg] (posnat) .. controls (6430,745) and (6530,740) .. (6550,670) .. controls (6600,640) and (6780,640) .. (nat);
\end{pgfonlayer}
\end{tikzpicture}
\end{document}
